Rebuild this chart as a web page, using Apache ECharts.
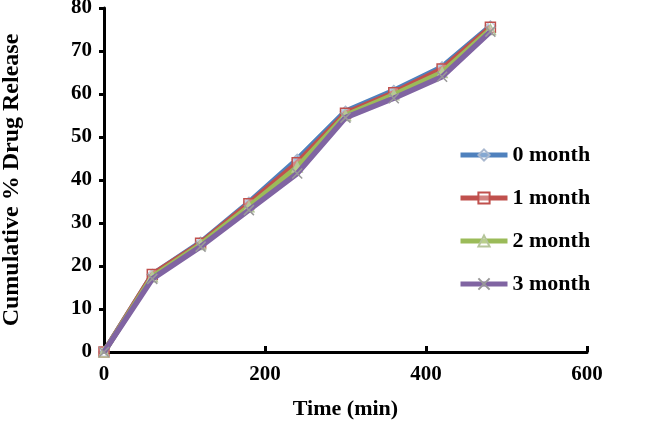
<!DOCTYPE html>
<html>
<head>
<meta charset="utf-8">
<script src="https://cdn.jsdelivr.net/npm/echarts@6/dist/echarts.min.js"></script>
<style>html,body{margin:0;padding:0;background:#fff}#c{width:660px;height:421px}</style>
</head>
<body>
<div id="c"></div>
<script>
var times = [0, 60, 120, 180, 240, 300, 360, 420, 480];
var month0 = [0, 18, 25.5, 34.8, 44.8, 56, 60.8, 66.3, 75.8];
var month1 = [0, 18, 25.3, 34.5, 44, 55.5, 60.3, 65.8, 75.5];
var month2 = [0, 17.5, 25, 33.8, 43, 55, 59.8, 65, 75];
var month3 = [0, 17, 24.5, 33, 41.5, 54.5, 59, 64, 74.5];
var seriesNames = ['0 month', '1 month', '2 month', '3 month'];
var xTicks = [0, 200, 400, 600];
var yTicks = [0, 10, 20, 30, 40, 50, 60, 70, 80];

var font = '"Liberation Serif", "Times New Roman", serif';
var colors = ['#4F81BD', '#C0504D', '#9BBB59', '#8064A2'];
var symbols = ['diamond', 'rect', 'triangle', 'path://M0,0L10,10M10,0L0,10'];
var symBorder = ['#A9B8CF', '#C0504D', '#B5C59A', '#999999'];
var allData = [month0, month1, month2, month3];

function pairs(arr) { return times.map(function (t, i) { return [t, arr[i]]; }); }

var series = allData.map(function (d, i) {
  return {
    name: seriesNames[i],
    type: 'line',
    data: pairs(d),
    symbol: symbols[i],
    symbolSize: 10,
    showAllSymbol: true,
    lineStyle: { color: colors[i], width: 5.5 },
    itemStyle: { color: i === 3 ? 'none' : 'rgba(255,255,255,0.3)', borderColor: symBorder[i], borderWidth: 1.5 },
    emphasis: { disabled: true },
    z: 2 + i
  };
});

var chart = echarts.init(document.getElementById('c'));
chart.setOption({
  animation: false,
  backgroundColor: '#ffffff',
  grid: { left: 104, right: 73, top: 8, bottom: 69, containLabel: false, outerBoundsMode: 'none' },
  legend: {
    orient: 'vertical',
    left: 458,
    top: 144,
    padding: 0,
    itemWidth: 47,
    itemHeight: 14,
    itemGap: 21,
    data: seriesNames,
    lineStyle: { width: 5 },
    textStyle: { fontFamily: font, fontWeight: 'bold', fontSize: 22, color: '#000' }
  },
  xAxis: {
    type: 'value', min: 0, max: 600, interval: 200,
    name: 'Time (min)', nameLocation: 'middle', nameGap: 46,
    nameTextStyle: { fontFamily: font, fontWeight: 'bold', fontSize: 22, color: '#000' },
    axisLine: { lineStyle: { color: '#000', width: 3 } },
    axisTick: { inside: true, length: 6, lineStyle: { color: '#000', width: 3 } },
    axisLabel: { fontFamily: font, fontWeight: 'bold', fontSize: 21, color: '#000', margin: 12,
      formatter: function (v) { return xTicks.indexOf(v) >= 0 ? String(v) : ''; } },
    splitLine: { show: false }
  },
  yAxis: {
    type: 'value', min: 0, max: 80, interval: 10,
    name: 'Cumulative % Drug Release', nameLocation: 'middle', nameGap: 80,
    nameTextStyle: { fontFamily: font, fontWeight: 'bold', fontSize: 24, color: '#000' },
    axisLine: { show: true, lineStyle: { color: '#000', width: 3 } },
    axisTick: { show: true, inside: false, length: 5, lineStyle: { color: '#000', width: 3 } },
    axisLabel: { fontFamily: font, fontWeight: 'bold', fontSize: 21, color: '#000', margin: 12,
      formatter: function (v) { return yTicks.indexOf(v) >= 0 ? String(v) : ''; } },
    splitLine: { show: false }
  },
  series: series
});
</script>
</body>
</html>
